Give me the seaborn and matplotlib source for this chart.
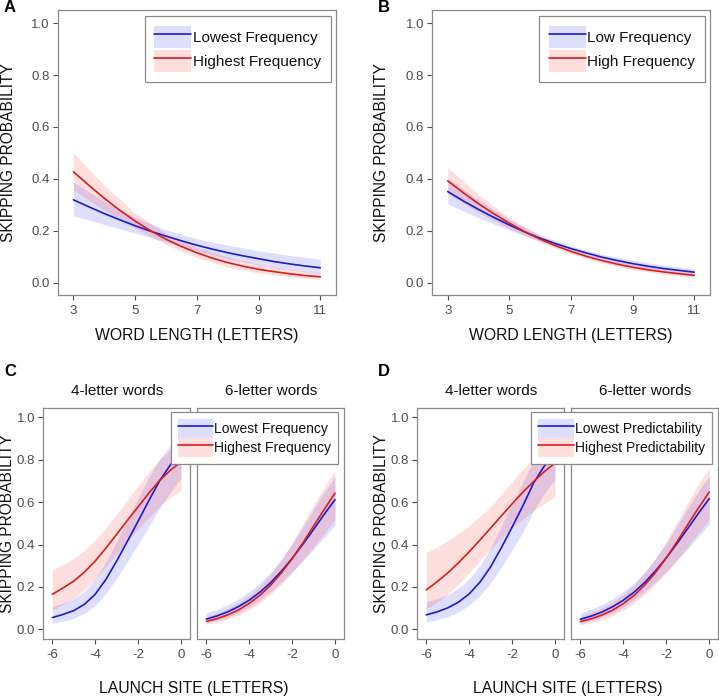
import numpy as np
import pandas as pd
import matplotlib
matplotlib.use('Agg')
import matplotlib.pyplot as plt
import seaborn as sns
from matplotlib.patches import Patch, Rectangle
from matplotlib.lines import Line2D
from matplotlib.legend_handler import HandlerTuple, HandlerPatch

# ---------------- data ----------------
# Panel A (word length), fitted lines and ribbons
a_line_x = [3, 3.5, 4, 4.5, 5, 5.5, 6, 6.5, 7, 7.5, 8, 8.5, 9, 9.5, 10, 10.5, 11]
a_low_p = [0.319, 0.292, 0.266, 0.242, 0.219, 0.198, 0.179, 0.161, 0.144, 0.129, 0.115,
           0.103, 0.092, 0.081, 0.072, 0.064, 0.057]
a_high_p = [0.427, 0.375, 0.325, 0.279, 0.237, 0.200, 0.167, 0.139, 0.115, 0.094, 0.077,
            0.063, 0.051, 0.042, 0.034, 0.027, 0.022]
a_band_x = [3, 4, 5, 6, 7, 8, 9, 10, 11]
a_low_lo = [0.258, 0.224, 0.191, 0.156, 0.122, 0.092, 0.068, 0.049, 0.035]
a_low_hi = [0.387, 0.313, 0.251, 0.203, 0.169, 0.144, 0.123, 0.105, 0.091]
a_high_lo = [0.357, 0.279, 0.209, 0.147, 0.096, 0.060, 0.037, 0.022, 0.013]
a_high_hi = [0.500, 0.375, 0.268, 0.189, 0.136, 0.098, 0.071, 0.051, 0.036]

# Panel B
b_line_x = [3, 3.5, 4, 4.5, 5, 5.5, 6, 6.5, 7, 7.5, 8, 8.5, 9, 9.5, 10, 10.5, 11]
b_low_p = [0.351, 0.315, 0.282, 0.251, 0.222, 0.195, 0.171, 0.150, 0.131, 0.114, 0.098,
           0.085, 0.073, 0.063, 0.054, 0.047, 0.040]
b_high_p = [0.392, 0.347, 0.304, 0.265, 0.229, 0.196, 0.167, 0.142, 0.120, 0.101, 0.085,
            0.071, 0.059, 0.049, 0.041, 0.034, 0.028]
b_band_x = [3, 4, 5, 6, 7, 8, 9, 10, 11]
b_low_lo = [0.303, 0.250, 0.202, 0.160, 0.121, 0.088, 0.063, 0.044, 0.031]
b_low_hi = [0.403, 0.317, 0.243, 0.184, 0.141, 0.109, 0.086, 0.067, 0.052]
b_high_lo = [0.343, 0.271, 0.208, 0.155, 0.111, 0.075, 0.050, 0.032, 0.021]
b_high_hi = [0.443, 0.339, 0.250, 0.180, 0.130, 0.095, 0.070, 0.051, 0.037]

# Panels C / D (launch site)
ls_x = [-6, -5.5, -5, -4.5, -4, -3.5, -3, -2.5, -2, -1.5, -1, -0.5, 0]
c4_low_p = [0.055, 0.070, 0.088, 0.118, 0.165, 0.235, 0.322, 0.415, 0.510, 0.607, 0.700, 0.775, 0.835]
c4_low_lo = [0.028, 0.039, 0.052, 0.075, 0.112, 0.169, 0.241, 0.320, 0.400, 0.485, 0.572, 0.647, 0.713]
c4_low_hi = [0.106, 0.124, 0.144, 0.180, 0.236, 0.317, 0.415, 0.517, 0.619, 0.717, 0.803, 0.866, 0.911]
c4_high_p = [0.165, 0.195, 0.227, 0.270, 0.322, 0.383, 0.448, 0.514, 0.578, 0.642, 0.702, 0.750, 0.790]
c4_high_lo = [0.091, 0.117, 0.147, 0.187, 0.237, 0.296, 0.357, 0.417, 0.473, 0.528, 0.580, 0.622, 0.656]
c4_high_hi = [0.280, 0.307, 0.334, 0.372, 0.420, 0.479, 0.542, 0.610, 0.677, 0.742, 0.801, 0.846, 0.881]

c6_low_p = [0.048, 0.063, 0.082, 0.107, 0.137, 0.175, 0.220, 0.274, 0.334, 0.401, 0.471, 0.543, 0.612]
c6_low_lo = [0.030, 0.042, 0.058, 0.079, 0.106, 0.139, 0.178, 0.223, 0.271, 0.323, 0.378, 0.434, 0.492]
c6_low_hi = [0.076, 0.094, 0.116, 0.143, 0.177, 0.218, 0.269, 0.331, 0.403, 0.483, 0.566, 0.647, 0.721]
c6_high_p = [0.037, 0.050, 0.068, 0.091, 0.122, 0.160, 0.208, 0.266, 0.333, 0.407, 0.487, 0.566, 0.643]
c6_high_lo = [0.023, 0.033, 0.047, 0.066, 0.092, 0.125, 0.165, 0.213, 0.267, 0.326, 0.388, 0.453, 0.519]
c6_high_hi = [0.060, 0.077, 0.098, 0.125, 0.160, 0.203, 0.259, 0.327, 0.406, 0.495, 0.586, 0.672, 0.750]

d4_low_p = [0.068, 0.082, 0.101, 0.128, 0.167, 0.222, 0.295, 0.385, 0.482, 0.582, 0.690, 0.770, 0.830]
d4_low_lo = [0.035, 0.045, 0.060, 0.082, 0.114, 0.159, 0.219, 0.293, 0.374, 0.459, 0.560, 0.641, 0.706]
d4_low_hi = [0.129, 0.144, 0.164, 0.194, 0.238, 0.301, 0.384, 0.486, 0.592, 0.695, 0.796, 0.863, 0.908]
d4_high_p = [0.186, 0.224, 0.266, 0.314, 0.366, 0.421, 0.478, 0.535, 0.592, 0.647, 0.697, 0.744, 0.785]
d4_high_lo = [0.095, 0.127, 0.166, 0.213, 0.267, 0.324, 0.380, 0.432, 0.479, 0.520, 0.559, 0.594, 0.626]
d4_high_hi = [0.362, 0.388, 0.418, 0.452, 0.490, 0.532, 0.580, 0.636, 0.696, 0.755, 0.808, 0.852, 0.889]

d6_low_p = [0.047, 0.062, 0.081, 0.106, 0.137, 0.175, 0.221, 0.276, 0.337, 0.405, 0.476, 0.548, 0.617]
d6_low_lo = [0.029, 0.041, 0.057, 0.078, 0.105, 0.138, 0.178, 0.224, 0.273, 0.326, 0.382, 0.438, 0.497]
d6_low_hi = [0.076, 0.094, 0.116, 0.143, 0.178, 0.219, 0.271, 0.334, 0.407, 0.488, 0.571, 0.652, 0.725]
d6_high_p = [0.036, 0.049, 0.067, 0.090, 0.121, 0.160, 0.209, 0.268, 0.337, 0.413, 0.494, 0.573, 0.648]
d6_high_lo = [0.021, 0.031, 0.045, 0.064, 0.090, 0.123, 0.163, 0.212, 0.267, 0.327, 0.390, 0.455, 0.520]
d6_high_hi = [0.062, 0.079, 0.101, 0.129, 0.165, 0.209, 0.266, 0.335, 0.416, 0.505, 0.597, 0.684, 0.762]

wl_ticks = [3, 5, 7, 9, 11]
ls_ticks = [-6, -4, -2, 0]
ls_tick_labels = ['-6', '-4', '-2', '0']
y_ticks = [0.0, 0.2, 0.4, 0.6, 0.8, 1.0]
y_tick_labels = ['0.0', '0.2', '0.4', '0.6', '0.8', '1.0']

legend_a = ['Lowest Frequency', 'Highest Frequency']
legend_b = ['Low Frequency', 'High Frequency']
legend_c = ['Lowest Frequency', 'Highest Frequency']
legend_d = ['Lowest Predictability', 'Highest Predictability']
facet_titles = ['4-letter words', '6-letter words']

# ---------------- style ----------------
sns.set_theme(style='white')
plt.rcParams['font.family'] = ['Liberation Sans', 'DejaVu Sans']

W, H = 719, 697
fig = plt.figure(figsize=(W / 100, H / 100), dpi=100)

def rect(l, t, r, b):
    return [l / W, 1 - b / H, (r - l) / W, (b - t) / H]

def fx(x):
    return x / W

def fy(y):
    return 1 - y / H

BLUE = '#1c1cc8'
RED = '#d61f1f'
BLUE_F = '#3c3cff'
RED_F = '#ff3c3c'
ALPHA = 0.17
GREY = '#8a8a8a'
TICKC = '#4d4d4d'
TXT = '#111111'


def style(ax, xlim, ylim, xticks, xlabels, show_y=True):
    ax.set_xlim(xlim)
    ax.set_ylim(ylim)
    ax.set_xticks(xticks)
    ax.set_xticklabels(xlabels)
    ax.set_yticks(y_ticks)
    ax.set_yticklabels(y_tick_labels)
    ax.set_xlabel('')
    ax.set_ylabel('')
    ax.grid(False)
    ax.set_facecolor('white')
    for s in ax.spines.values():
        s.set_visible(True)
        s.set_color(GREY)
        s.set_linewidth(0.9)
    ax.tick_params(axis='both', direction='out', length=3.5, width=0.8,
                   color=TICKC, labelcolor=TICKC, labelsize=9.5, pad=2.5,
                   bottom=True, left=show_y, labelleft=show_y)
    ax.tick_params(axis='x', pad=3.5)


def draw(ax, band_x, line_x, lowp, lowlo, lowhi, highp, highlo, highhi, names):
    ax.fill_between(band_x, lowlo, lowhi, color=BLUE_F, alpha=ALPHA, lw=0)
    ax.fill_between(band_x, highlo, highhi, color=RED_F, alpha=ALPHA, lw=0)
    df = pd.DataFrame({
        'x': list(line_x) + list(line_x),
        'p': list(lowp) + list(highp),
        'g': [names[0]] * len(line_x) + [names[1]] * len(line_x),
    })
    sns.lineplot(data=df, x='x', y='p', hue='g', hue_order=names,
                 palette={names[0]: BLUE, names[1]: RED},
                 ax=ax, legend=False, linewidth=1.2, estimator=None)


def full_rect(legend, orig_handle, xdescent, ydescent, width, height, fontsize):
    return Rectangle((-xdescent, -ydescent), width, height)


def add_legend(names, right, top, fs, hl, hh, ls, bp, tp):
    handles = [
        (Patch(facecolor=BLUE_F, alpha=ALPHA, edgecolor='none'),
         Line2D([], [], color=BLUE, lw=1.2)),
        (Patch(facecolor=RED_F, alpha=ALPHA, edgecolor='none'),
         Line2D([], [], color=RED, lw=1.2)),
    ]
    leg = fig.legend(handles, names, loc='upper right',
                     bbox_to_anchor=(fx(right), fy(top)),
                     bbox_transform=fig.transFigure,
                     handler_map={tuple: HandlerTuple(ndivide=1, pad=0),
                                  Patch: HandlerPatch(patch_func=full_rect)},
                     frameon=True, fancybox=False, framealpha=1,
                     edgecolor=GREY, facecolor='white',
                     fontsize=fs, handlelength=hl, handleheight=hh,
                     labelspacing=ls, borderpad=bp, handletextpad=tp,
                     borderaxespad=0)
    leg.get_frame().set_linewidth(0.9)
    for t in leg.get_texts():
        t.set_color(TXT)
    return leg

WL_XLIM = (2.5, 11.51)
LS_XLIM = (-6.42, 0.42)
YLIM_AB = (-0.048, 1.051)
YLIM_CD = (-0.046, 1.043)

# Panel A
axA = fig.add_axes(rect(58, 10, 336, 295))
draw(axA, a_band_x, a_line_x, a_low_p, a_low_lo, a_low_hi, a_high_p, a_high_lo, a_high_hi, legend_a)
style(axA, WL_XLIM, YLIM_AB, wl_ticks, [str(v) for v in wl_ticks])

# Panel B
axB = fig.add_axes(rect(432.3, 10, 710, 295))
draw(axB, b_band_x, b_line_x, b_low_p, b_low_lo, b_low_hi, b_high_p, b_high_lo, b_high_hi, legend_b)
style(axB, WL_XLIM, YLIM_AB, wl_ticks, [str(v) for v in wl_ticks])

# Panel C
axC1 = fig.add_axes(rect(43.3, 408.3, 190, 639))
draw(axC1, ls_x, ls_x, c4_low_p, c4_low_lo, c4_low_hi, c4_high_p, c4_high_lo, c4_high_hi, legend_c)
style(axC1, LS_XLIM, YLIM_CD, ls_ticks, ls_tick_labels)
axC2 = fig.add_axes(rect(197.3, 408.3, 344, 639))
draw(axC2, ls_x, ls_x, c6_low_p, c6_low_lo, c6_low_hi, c6_high_p, c6_high_lo, c6_high_hi, legend_c)
style(axC2, LS_XLIM, YLIM_CD, ls_ticks, ls_tick_labels, show_y=False)

# Panel D
axD1 = fig.add_axes(rect(417.3, 408.3, 564, 639))
draw(axD1, ls_x, ls_x, d4_low_p, d4_low_lo, d4_low_hi, d4_high_p, d4_high_lo, d4_high_hi, legend_d)
style(axD1, LS_XLIM, YLIM_CD, ls_ticks, ls_tick_labels)
axD2 = fig.add_axes(rect(571.3, 408.3, 718.3, 639))
draw(axD2, ls_x, ls_x, d6_low_p, d6_low_lo, d6_low_hi, d6_high_p, d6_high_lo, d6_high_hi, legend_d)
style(axD2, LS_XLIM, YLIM_CD, ls_ticks, ls_tick_labels, show_y=False)

# Legends
add_legend(legend_a, 331, 16, 11, 2.4, 1.8, 0.17, 0.65, 0.12)
add_legend(legend_b, 705.3, 16, 11, 2.4, 1.8, 0.17, 0.65, 0.12)
add_legend(legend_c, 338.3, 411.7, 10, 2.55, 1.73, 0.02, 0.5, 0.1)
add_legend(legend_d, 712.3, 411.7, 10, 2.55, 1.73, 0.02, 0.5, 0.1)

# Texts
for letter, x, y in [('A', 10, 8), ('B', 384, 8), ('C', 10.5, 372), ('D', 384, 372)]:
    fig.text(fx(x), fy(y), letter, fontsize=12, fontweight='bold',
             ha='center', va='center', color='black')

for x, y in [(9, 152.5), (381, 152.5), (8, 523.5), (381, 523.5)]:
    fig.text(fx(x), fy(y), 'SKIPPING PROBABILITY', rotation=90, fontsize=11.2,
             ha='center', va='center', color=TXT)

for x in [197, 571]:
    fig.text(fx(x), fy(335), 'WORD LENGTH (LETTERS)', fontsize=11.3,
             ha='center', va='center', color=TXT)

for x in [193.7, 567.8]:
    fig.text(fx(x), fy(688), 'LAUNCH SITE (LETTERS)', fontsize=11.3,
             ha='center', va='center', color=TXT)

for (l, r), title in zip([(43.3, 190), (197.3, 344), (417.3, 564), (571.3, 718.3)],
                         facet_titles * 2):
    fig.text(fx((l + r) / 2), fy(391.5), title, fontsize=11,
             ha='center', va='center', color=TXT)

fig.savefig('out.png', dpi=100)
